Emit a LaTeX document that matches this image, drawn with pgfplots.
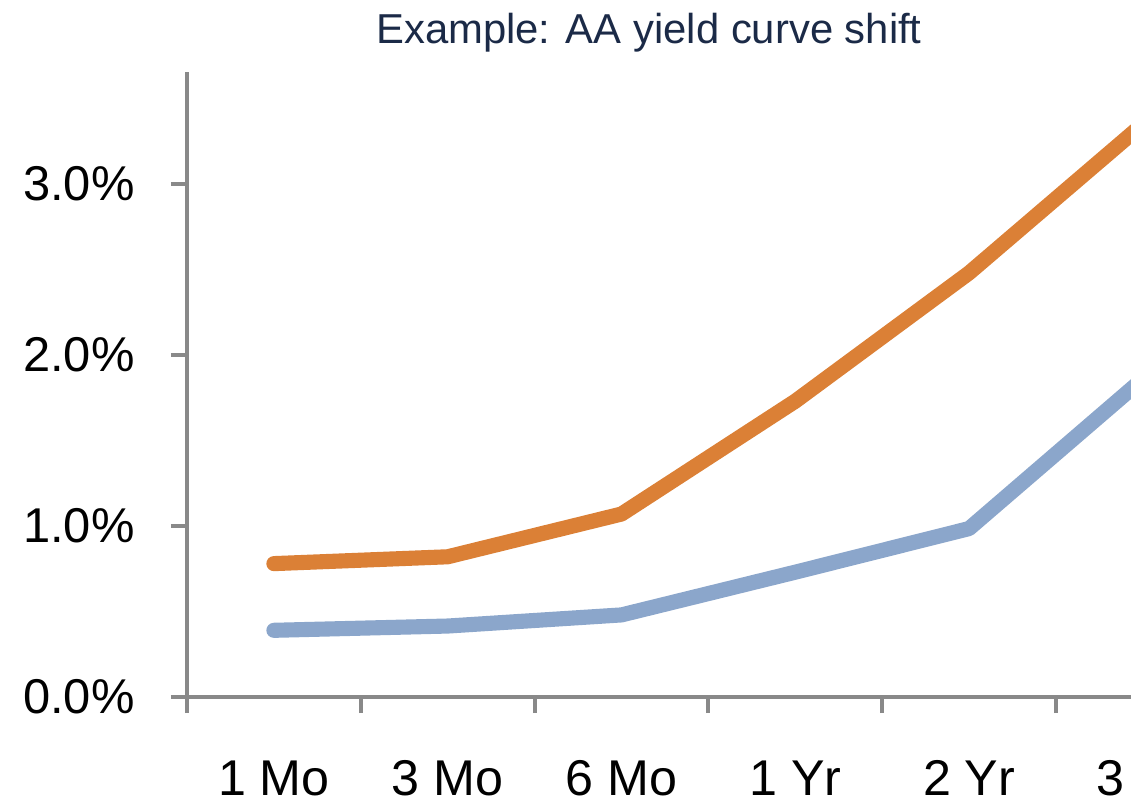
\documentclass[border=0pt]{standalone}
\usepackage{fontspec}
\setmainfont{Liberation Sans}
\usepackage{pgfplots}
\pgfplotsset{compat=1.18}

\definecolor{axisgray}{HTML}{898989}
\definecolor{curveorange}{HTML}{DB8036}
\definecolor{curveblue}{HTML}{8BA6CB}
\definecolor{titlenavy}{HTML}{1B2A47}

\begin{document}
\begin{tikzpicture}
\useasboundingbox (0,0) rectangle (11.31,8.02);
\clip (0,0) rectangle (11.31,8.02);
\begin{axis}[
  at={(1.87cm,1.05cm)}, anchor=south west,
  scale only axis,
  width=12.166cm, height=6.25cm,
  xmin=-0.5, xmax=6.5,
  ymin=0, ymax=3.655,
  axis x line=bottom, axis y line=left,
  axis line style={-, draw=axisgray, line width=1.1pt},
  tick style={draw=axisgray, line width=1.1pt},
  tick align=outside,
  major tick length=0.16cm,
  xtick={-0.5,0.5,...,6.5},
  x tick label as interval,
  xticklabels={1 Mo,3 Mo,6 Mo,1 Yr,2 Yr,3 Yr,5 Yr},
  ytick={0,1,2,3},
  yticklabels={0.0\%,1.0\%,2.0\%,3.0\%},
  xticklabel style={font=\fontsize{14.3}{16}\selectfont, anchor=base, yshift=-0.82cm},
  yticklabel style={font=\fontsize{13.9}{16}\selectfont, anchor=east, xshift=-0.24cm},
  clip=false,
]
\addplot[curveorange, line width=4.3pt, line cap=round, line join=round]
  coordinates {(0,0.78) (1,0.82) (2,1.07) (3,1.73) (4,2.48) (5,3.35)};
\addplot[curveblue, line width=4.3pt, line cap=round, line join=round]
  coordinates {(0,0.39) (1,0.415) (2,0.48) (3,0.73) (4,0.985) (5,1.86)};
% chart title
\node[anchor=base, font=\fontsize{11.9}{14}\selectfont, text=titlenavy, inner sep=0pt]
  at (axis description cs:0.3797,1.0448) {Example: AA yield curve shift};
\end{axis}
\end{tikzpicture}
\end{document}
